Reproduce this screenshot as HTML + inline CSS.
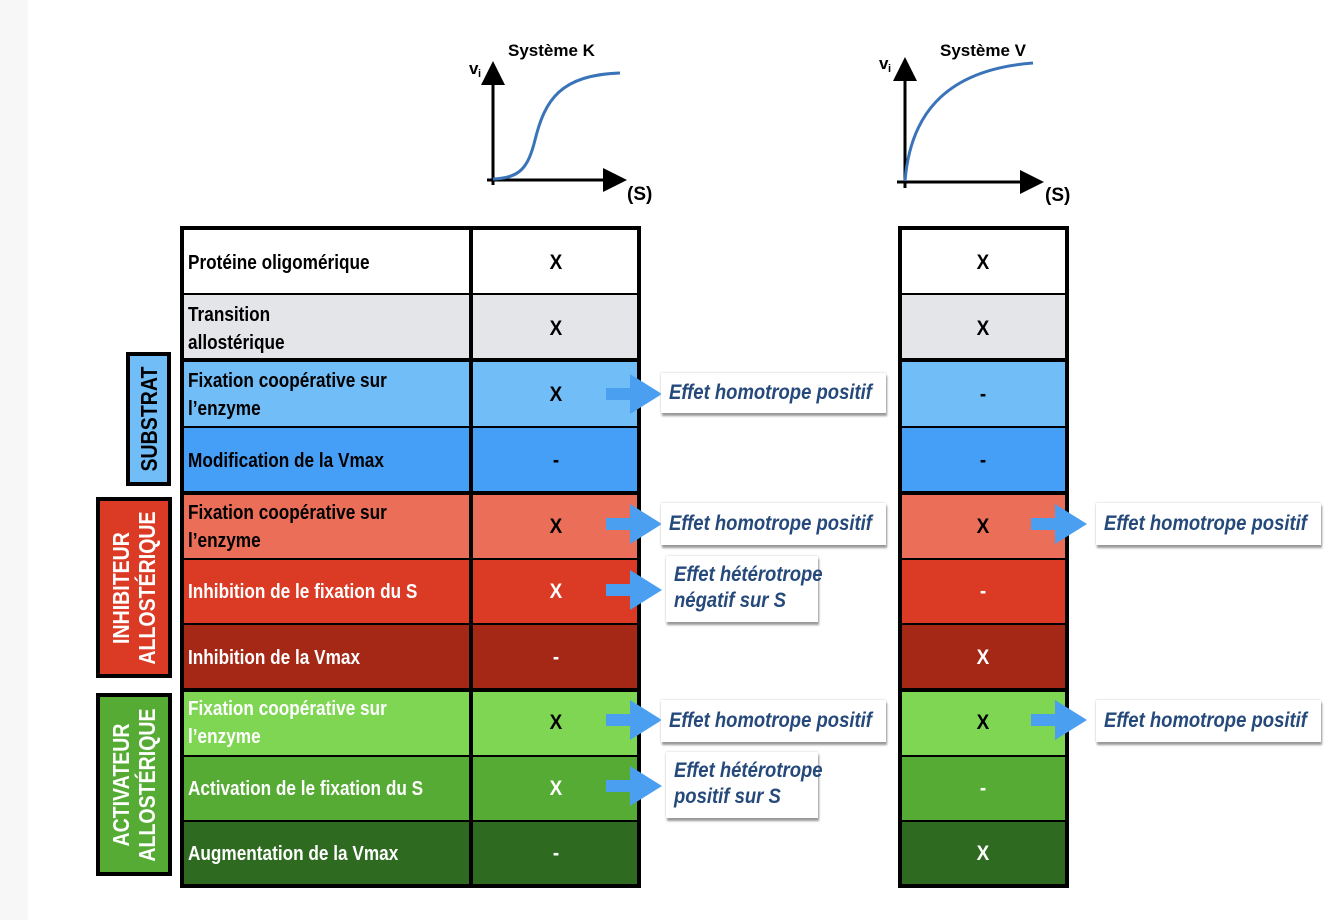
<!DOCTYPE html>
<html><head><meta charset="utf-8"><style>
body{margin:0;width:1344px;height:920px;background:#fff;position:relative;overflow:hidden;font-family:"Liberation Sans",Arial,sans-serif;font-weight:bold}
.a{position:absolute}
.bg{position:absolute}
.ln{position:absolute;background:#000}
.t{position:absolute;font-size:20px;line-height:28px;transform:scaleX(.86);transform-origin:left center;white-space:nowrap}
.v{position:absolute;font-size:21px;text-align:center;width:40px;margin-left:-20px;transform:scaleX(.9)}
.cb{position:absolute;background:#fff;box-shadow:1px 3px 2px #999,0 0 2px #ccc;color:#25497a;font-style:italic;font-size:21px;line-height:26px;padding:0 8px;white-space:nowrap}
.cb span{display:inline-block;transform:scaleX(.88);transform-origin:left center}
.side{position:absolute;border:4px solid #000;box-sizing:border-box}
.side div{position:absolute;left:50%;top:50%;transform:translate(-50%,-50%) rotate(-90deg) scaleX(.85);font-size:23px;line-height:26px;text-align:center;white-space:nowrap}
</style></head><body>
<div class="a" style="left:0;top:0;width:28px;height:920px;background:#f7f7f7"></div>
<svg class="a" style="left:0;top:0" width="1344" height="220">
<defs><marker id="ar" markerWidth="8" markerHeight="8" refX="7" refY="4" orient="auto"><path d="M0,0L8,4L0,8Z" fill="#000"/></marker></defs>
<line x1="493" y1="185" x2="493" y2="64" stroke="#000" stroke-width="3" marker-end="url(#ar)"/>
<line x1="487" y1="180" x2="624" y2="180" stroke="#000" stroke-width="3" marker-end="url(#ar)"/>
<path d="M493,179 C520,178 528,168 535,140 C545,100 560,75 620,73" fill="none" stroke="#3a74b8" stroke-width="3"/>
<line x1="905" y1="188" x2="905" y2="60" stroke="#000" stroke-width="3" marker-end="url(#ar)"/>
<line x1="897" y1="182" x2="1041" y2="182" stroke="#000" stroke-width="3" marker-end="url(#ar)"/>
<path d="M905,181 C910,120 940,70 1033,63" fill="none" stroke="#3a74b8" stroke-width="3"/>
<text x="508" y="56" font-size="17" font-weight="bold" font-family="Liberation Sans">Système K</text>
<text x="940" y="56" font-size="17" font-weight="bold" font-family="Liberation Sans">Système V</text>
<text x="469" y="74" font-size="17" font-family="Liberation Sans">v</text><text x="478" y="77" font-size="11" font-family="Liberation Sans">i</text>
<text x="879" y="69" font-size="17" font-family="Liberation Sans">v</text><text x="888" y="72" font-size="11" font-family="Liberation Sans">i</text>
<text x="627" y="200" font-size="19" font-family="Liberation Sans">(S)</text>
<text x="1045" y="201" font-size="19" font-family="Liberation Sans">(S)</text>
</svg>

<!-- table 1 backgrounds -->
<div class="bg" style="left:180px;top:227px;width:461px;height:67px;background:#fff"></div>
<div class="bg" style="left:180px;top:294px;width:461px;height:66px;background:#e4e5e9"></div>
<div class="bg" style="left:180px;top:360px;width:461px;height:67px;background:#70bdf8"></div>
<div class="bg" style="left:180px;top:427px;width:461px;height:66px;background:#459ff7"></div>
<div class="bg" style="left:180px;top:493px;width:461px;height:66px;background:#eb6e58"></div>
<div class="bg" style="left:180px;top:559px;width:461px;height:65px;background:#db3b25"></div>
<div class="bg" style="left:180px;top:624px;width:461px;height:66px;background:#a52817"></div>
<div class="bg" style="left:180px;top:690px;width:461px;height:66px;background:#7ed653"></div>
<div class="bg" style="left:180px;top:756px;width:461px;height:65px;background:#55ab33"></div>
<div class="bg" style="left:180px;top:821px;width:461px;height:66px;background:#2e6b20"></div>
<!-- table 2 backgrounds -->
<div class="bg" style="left:899px;top:227px;width:169px;height:67px;background:#fff"></div>
<div class="bg" style="left:899px;top:294px;width:169px;height:66px;background:#e4e5e9"></div>
<div class="bg" style="left:899px;top:360px;width:169px;height:67px;background:#70bdf8"></div>
<div class="bg" style="left:899px;top:427px;width:169px;height:66px;background:#459ff7"></div>
<div class="bg" style="left:899px;top:493px;width:169px;height:66px;background:#eb6e58"></div>
<div class="bg" style="left:899px;top:559px;width:169px;height:65px;background:#db3b25"></div>
<div class="bg" style="left:899px;top:624px;width:169px;height:66px;background:#a52817"></div>
<div class="bg" style="left:899px;top:690px;width:169px;height:66px;background:#7ed653"></div>
<div class="bg" style="left:899px;top:756px;width:169px;height:65px;background:#55ab33"></div>
<div class="bg" style="left:899px;top:821px;width:169px;height:66px;background:#2e6b20"></div>

<!-- lines table 1 -->
<div class="ln" style="left:180px;top:227px;width:4px;height:660px"></div>
<div class="ln" style="left:637px;top:227px;width:4px;height:660px"></div>
<div class="ln" style="left:469px;top:227px;width:4px;height:660px"></div>
<div class="ln" style="left:180px;top:226px;width:461px;height:4px"></div>
<div class="ln" style="left:180px;top:884px;width:461px;height:4px"></div>
<div class="ln" style="left:180px;top:293px;width:461px;height:2px"></div>
<div class="ln" style="left:180px;top:358px;width:461px;height:4px"></div>
<div class="ln" style="left:180px;top:426px;width:461px;height:2px"></div>
<div class="ln" style="left:180px;top:491px;width:461px;height:4px"></div>
<div class="ln" style="left:180px;top:558px;width:461px;height:2px"></div>
<div class="ln" style="left:180px;top:623px;width:461px;height:2px"></div>
<div class="ln" style="left:180px;top:688px;width:461px;height:4px"></div>
<div class="ln" style="left:180px;top:755px;width:461px;height:2px"></div>
<div class="ln" style="left:180px;top:820px;width:461px;height:2px"></div>
<!-- lines table 2 -->
<div class="ln" style="left:898px;top:227px;width:4px;height:660px"></div>
<div class="ln" style="left:1065px;top:227px;width:4px;height:660px"></div>
<div class="ln" style="left:898px;top:226px;width:171px;height:4px"></div>
<div class="ln" style="left:898px;top:884px;width:171px;height:4px"></div>
<div class="ln" style="left:898px;top:293px;width:171px;height:2px"></div>
<div class="ln" style="left:898px;top:358px;width:171px;height:4px"></div>
<div class="ln" style="left:898px;top:426px;width:171px;height:2px"></div>
<div class="ln" style="left:898px;top:491px;width:171px;height:4px"></div>
<div class="ln" style="left:898px;top:558px;width:171px;height:2px"></div>
<div class="ln" style="left:898px;top:623px;width:171px;height:2px"></div>
<div class="ln" style="left:898px;top:688px;width:171px;height:4px"></div>
<div class="ln" style="left:898px;top:755px;width:171px;height:2px"></div>
<div class="ln" style="left:898px;top:820px;width:171px;height:2px"></div>

<!-- labels -->
<div class="t" style="left:188px;top:249px">Protéine oligomérique</div>
<div class="t" style="left:188px;top:301px">Transition<br>allostérique</div>
<div class="t" style="left:188px;top:367px">Fixation coopérative sur<br>l’enzyme</div>
<div class="t" style="left:188px;top:447px">Modification de la Vmax</div>
<div class="t" style="left:188px;top:499px">Fixation coopérative sur<br>l’enzyme</div>
<div class="t" style="left:188px;top:578px;color:#fff">Inhibition de le fixation du S</div>
<div class="t" style="left:188px;top:644px;color:#fff">Inhibition de la Vmax</div>
<div class="t" style="left:188px;top:695px;color:#fff">Fixation coopérative sur<br>l’enzyme</div>
<div class="t" style="left:188px;top:775px;color:#fff">Activation de le fixation du S</div>
<div class="t" style="left:188px;top:840px;color:#fff">Augmentation de la Vmax</div>

<!-- values table1 (center x 556) -->
<div class="v" style="left:556px;top:251px">X</div>
<div class="v" style="left:556px;top:317px">X</div>
<div class="v" style="left:556px;top:383px">X</div>
<div class="v" style="left:556px;top:449px">-</div>
<div class="v" style="left:556px;top:515px">X</div>
<div class="v" style="left:556px;top:580px;color:#fff">X</div>
<div class="v" style="left:556px;top:646px;color:#fff">-</div>
<div class="v" style="left:556px;top:711px">X</div>
<div class="v" style="left:556px;top:777px;color:#fff">X</div>
<div class="v" style="left:556px;top:842px;color:#fff">-</div>
<!-- values table2 (center 983) -->
<div class="v" style="left:983px;top:251px">X</div>
<div class="v" style="left:983px;top:317px">X</div>
<div class="v" style="left:983px;top:383px">-</div>
<div class="v" style="left:983px;top:449px">-</div>
<div class="v" style="left:983px;top:515px">X</div>
<div class="v" style="left:983px;top:580px;color:#fff">-</div>
<div class="v" style="left:983px;top:646px;color:#fff">X</div>
<div class="v" style="left:983px;top:711px">X</div>
<div class="v" style="left:983px;top:777px;color:#fff">-</div>
<div class="v" style="left:983px;top:842px;color:#fff">X</div>

<!-- side labels -->
<div class="side" style="left:126px;top:352px;width:45px;height:134px;background:#70bdf8"><div>SUBSTRAT</div></div>
<div class="side" style="left:96px;top:497px;width:76px;height:181px;background:#db3b25;color:#fff"><div>INHIBITEUR<br>ALLOSTÉRIQUE</div></div>
<div class="side" style="left:96px;top:693px;width:76px;height:183px;background:#55ab33;color:#fff"><div>ACTIVATEUR<br>ALLOSTÉRIQUE</div></div>

<!-- arrows -->
<svg class="a" style="left:0;top:0" width="1344" height="920">
<g fill="#4a9ff0">
<path d="M606,388h24v-14l32,20l-32,20v-14h-24z"/>
<path d="M606,518h24v-14l32,20l-32,20v-14h-24z"/>
<path d="M606,584h24v-14l32,20l-32,20v-14h-24z"/>
<path d="M606,714h24v-14l32,20l-32,20v-14h-24z"/>
<path d="M606,780h24v-14l32,20l-32,20v-14h-24z"/>
<path d="M1031,518h24v-14l32,20l-32,20v-14h-24z"/>
<path d="M1031,714h24v-14l32,20l-32,20v-14h-24z"/>
</g></svg>

<!-- callouts -->
<div class="cb" style="left:661px;top:373px;width:209px;height:40px;line-height:40px"><span>Effet homotrope positif</span></div>
<div class="cb" style="left:661px;top:503px;width:209px;height:42px;line-height:42px"><span>Effet homotrope positif</span></div>
<div class="cb" style="left:666px;top:556px;width:152px;height:66px;padding-top:6px;box-sizing:border-box"><span>Effet hétérotrope<br>négatif sur S</span></div>
<div class="cb" style="left:661px;top:700px;width:209px;height:42px;line-height:42px"><span>Effet homotrope positif</span></div>
<div class="cb" style="left:666px;top:752px;width:152px;height:66px;padding-top:6px;box-sizing:border-box"><span>Effet hétérotrope<br>positif sur S</span></div>
<div class="cb" style="left:1096px;top:503px;width:209px;height:42px;line-height:42px"><span>Effet homotrope positif</span></div>
<div class="cb" style="left:1096px;top:700px;width:209px;height:42px;line-height:42px"><span>Effet homotrope positif</span></div>
</body></html>
